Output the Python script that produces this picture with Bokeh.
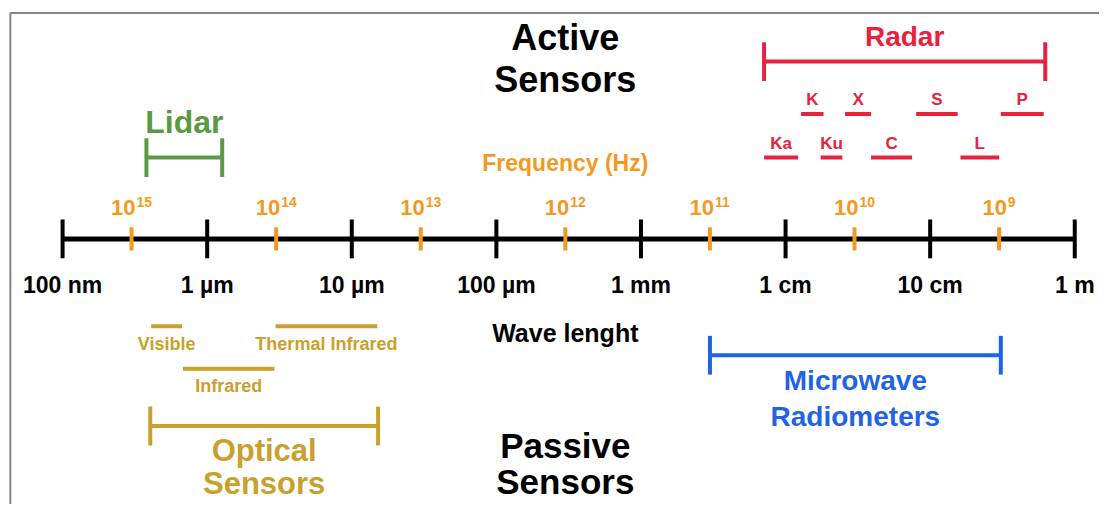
import math
from bokeh.plotting import figure
from bokeh.models import Range1d, ColumnDataSource
from bokeh.core.properties import value
from bokeh.embed import file_html
from bokeh.resources import INLINE

C_LIGHT = 2.998e8  # m/s

# ---------------- data (wavelengths in metres) ----------------
wl_ticks = [1e-7, 1e-6, 1e-5, 1e-4, 1e-3, 1e-2, 1e-1, 1.0]
wl_labels = ["100 nm", "1 µm", "10 µm", "100 µm", "1 mm", "1 cm", "10 cm", "1 m"]

freq_exponents = [15, 14, 13, 12, 11, 10, 9]  # frequency ticks 10^n Hz

lidar_range = [3.80e-7, 1.27e-6]
radar_range = [7.1e-3, 0.625]

band_top_names = ["K", "X", "S", "P"]
band_top_start = [1.28e-2, 2.58e-2, 8.0e-2, 0.308]
band_top_end = [1.83e-2, 3.9e-2, 0.155, 0.61]

band_bot_names = ["Ka", "Ku", "C", "L"]
band_bot_start = [0.71e-2, 1.75e-2, 3.9e-2, 0.162]
band_bot_end = [1.22e-2, 2.47e-2, 7.5e-2, 0.30]

optical_range = [4.04e-7, 1.52e-5]
optical_names = ["Visible", "Infrared", "Thermal Infrared"]
optical_start = [4.1e-7, 6.8e-7, 2.97e-6]
optical_end = [6.7e-7, 2.92e-6, 1.5e-5]

microwave_range = [3.0e-3, 0.308]

# ---------------- styling ----------------
FONT = value("Liberation Sans")
BLACK = "#000000"
ORANGE = "#f39a1e"
RED = "#e8213c"
GREEN = "#5b9a45"
GOLD = "#c9a02c"
BLUE = "#1f63e6"
GRAY = "#858585"

def gmean(a, b):
    return math.sqrt(a * b)

CENTER_X = C_LIGHT / 1e12  # column of the centred titles

# x: log10 wavelength across the picture; y: rows measured from the top
p = figure(width=1099, height=504, x_axis_type="log",
           x_range=Range1d(10 ** -7.4294, 10 ** 0.1711),
           y_range=Range1d(520, 0),
           x_axis_location=None, y_axis_location=None,
           output_backend="svg", toolbar_location=None, min_border=0)
p.grid.visible = False
p.outline_line_color = None
p.background_fill_color = "white"
p.border_fill_color = "white"

# frame of the original picture (left and top edges)
bx = 10 ** ((10 - 63) / 146.7 - 7)
p.line(x=[bx, bx, 10 ** 0.3], y=[540, 13, 13], line_color=GRAY, line_width=2)

def txt(x, y, t, color, size, align="center", xoff=0, baseline="middle"):
    src = ColumnDataSource(dict(x=x, y=y, t=t))
    p.text(x="x", y="y", text="t", source=src, text_color=color,
           text_font=FONT, text_font_style="bold", text_font_size=size,
           text_align=align, text_baseline=baseline, x_offset=xoff)

def bracket(rng, y, color, cap=20, width=4):
    p.segment(x0=[rng[0]], x1=[rng[1]], y0=[y], y1=[y], line_color=color, line_width=width)
    p.segment(x0=rng, x1=rng, y0=[y - cap] * 2, y1=[y + cap] * 2, line_color=color, line_width=width)

# ---------------- main wavelength axis ----------------
p.segment(x0=[wl_ticks[0]], x1=[wl_ticks[-1]], y0=[246], y1=[246], line_color=BLACK, line_width=5)
p.segment(x0=wl_ticks, x1=wl_ticks, y0=[226] * len(wl_ticks), y1=[266] * len(wl_ticks),
          line_color=BLACK, line_width=4)
txt(wl_ticks, [294] * len(wl_ticks), wl_labels, BLACK, "23px")

# frequency ticks
freq_x = [C_LIGHT / 10 ** e for e in freq_exponents]
p.segment(x0=freq_x, x1=freq_x, y0=[234] * len(freq_x), y1=[258] * len(freq_x),
          line_color=ORANGE, line_width=4)
for fx, e in zip(freq_x, freq_exponents):
    n = len(str(e))
    off = (23 + 7.5 * n) / 2 - 7.5 * n
    txt([fx], [214], ["10"], ORANGE, "22px", align="right", xoff=off)
    txt([fx], [208], [str(e)], ORANGE, "14px", align="left", xoff=off + 1)

txt([CENTER_X], [168], ["Frequency (Hz)"], ORANGE, "23px")
txt([CENTER_X], [343], ["Wave lenght"], BLACK, "25px")

# ---------------- active sensors ----------------
txt([CENTER_X, CENTER_X], [38, 82], ["Active", "Sensors"], BLACK, "36px")

bracket(lidar_range, 162, GREEN)
txt([gmean(*lidar_range)], [125], ["Lidar"], GREEN, "32px")

bracket(radar_range, 63, RED)
txt([gmean(*radar_range)], [37], ["Radar"], RED, "28px")

p.segment(x0=band_top_start, x1=band_top_end, y0=[117] * 4, y1=[117] * 4, line_color=RED, line_width=4)
txt([gmean(a, b) for a, b in zip(band_top_start, band_top_end)], [102] * 4, band_top_names, RED, "17px")
p.segment(x0=band_bot_start, x1=band_bot_end, y0=[162] * 4, y1=[162] * 4, line_color=RED, line_width=4)
txt([gmean(a, b) for a, b in zip(band_bot_start, band_bot_end)], [148] * 4, band_bot_names, RED, "17px")

# ---------------- passive sensors ----------------
opt_bar_y = {"Visible": 336, "Infrared": 380, "Thermal Infrared": 336}
bar_y = [opt_bar_y[n] for n in optical_names]
p.segment(x0=optical_start, x1=optical_end, y0=bar_y, y1=bar_y, line_color=GOLD, line_width=4)
txt([gmean(a, b) for a, b in zip(optical_start, optical_end)], [y + 18 for y in bar_y],
    optical_names, GOLD, "18px")

bracket(optical_range, 439, GOLD)
oc = gmean(*optical_range)
txt([oc, oc], [464, 498], ["Optical", "Sensors"], GOLD, "31px")

bracket(microwave_range, 366, BLUE)
mc = gmean(*microwave_range)
txt([mc, mc], [392, 429], ["Microwave", "Radiometers"], BLUE, "28px")

txt([CENTER_X, CENTER_X], [459, 496], ["Passive", "Sensors"], BLACK, "35px")

open("out.html", "w").write(file_html(p, INLINE))
